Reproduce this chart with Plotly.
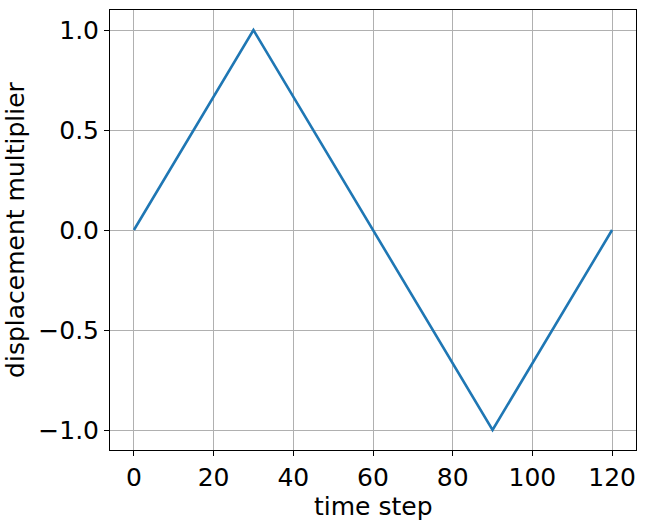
import plotly.graph_objects as go

# vertices of the triangle wave
time_step = [0, 30, 90, 120]
multiplier = [0.0, 1.0, -1.0, 0.0]

x_ticks = [0, 20, 40, 60, 80, 100, 120]
y_ticks = [-1.0, -0.5, 0.0, 0.5, 1.0]
y_labels = ["\u22121.0", "\u22120.5", "0.0", "0.5", "1.0"]

FONT_SIZE = 25

fig = go.Figure(
    go.Scatter(
        x=time_step,
        y=multiplier,
        mode="lines",
        line=dict(color="#1f77b4", width=2.6),
    )
)

axis_style = dict(
    showgrid=True,
    gridcolor="#b0b0b0",
    gridwidth=1,
    zeroline=False,
    showline=True,
    linecolor="black",
    linewidth=1,
    mirror=True,
    ticks="outside",
    ticklen=5,
    tickwidth=1,
    tickcolor="black",
    tickfont=dict(size=FONT_SIZE, color="black"),
)

fig.update_xaxes(range=[-6, 126], tickvals=x_ticks, **axis_style)
fig.update_yaxes(
    range=[-1.1, 1.1],
    tickvals=y_ticks,
    ticktext=y_labels,
    title=dict(text="displacement multiplier", font=dict(size=FONT_SIZE, color="black"), standoff=6),
    **axis_style,
)

# x title as an annotation so it can sit a little closer to the tick labels
fig.add_annotation(
    text="time step",
    xref="paper",
    yref="paper",
    x=0.5,
    y=-0.09,
    xanchor="center",
    yanchor="top",
    showarrow=False,
    font=dict(size=FONT_SIZE, color="black"),
)

fig.update_layout(
    width=645,
    height=523,
    margin=dict(l=110, r=9, t=10, b=73),
    plot_bgcolor="white",
    paper_bgcolor="white",
    font=dict(family="DejaVu Sans", color="black"),
    showlegend=False,
)

# drop the page's default body margin so the figure sits at the window corner
fig.write_html(
    "out.html",
    config={"displayModeBar": False},
    post_script="document.body.style.margin = '0';",
)
